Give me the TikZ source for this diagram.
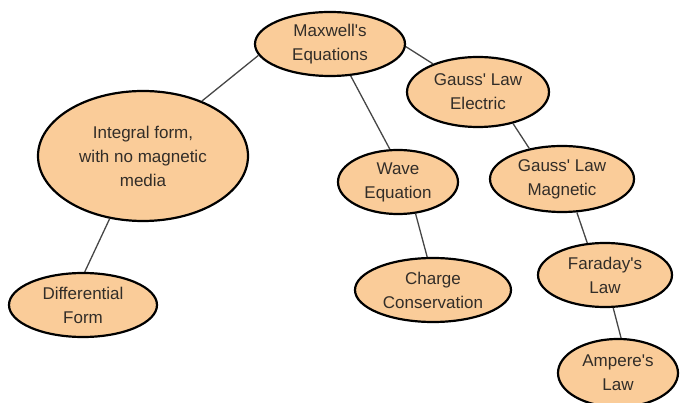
\documentclass[tikz,border=0pt]{standalone}
\usepackage{fontspec}
\setmainfont{Liberation Sans}[Ligatures=TeXOff]
\usetikzlibrary{shapes.geometric}
\definecolor{peach}{RGB}{250,204,153}
\definecolor{txt}{RGB}{50,45,40}
\definecolor{conn}{RGB}{70,70,70}
\begin{document}
\begin{tikzpicture}[x=1pt,y=-1pt,
  bub/.style={ellipse,draw=black,line width=2.2pt,fill=peach,inner sep=0pt,
    align=center,text=txt,font=\fontsize{17}{24}\selectfont},
  conn/.style={draw=conn,line width=1.3pt}]
\useasboundingbox (0,0) rectangle (680,403);
\node[bub,minimum width=150pt,minimum height=64pt] (max) at (330,44) {Maxwell's\\Equations};
\node[bub,minimum width=142pt,minimum height=70pt] (ge) at (478,92) {Gauss' Law\\Electric};
\node[bub,minimum width=210pt,minimum height=130pt] (int) at (143,156) {Integral form,\\with no magnetic\\media};
\node[bub,minimum width=148pt,minimum height=64pt] (dif) at (83,305) {Differential\\Form};
\node[bub,minimum width=120pt,minimum height=64pt] (wav) at (398,182) {Wave\\Equation};
\node[bub,minimum width=144pt,minimum height=66pt] (gm) at (562,179) {Gauss' Law\\Magnetic};
\node[bub,minimum width=156pt,minimum height=64pt] (chg) at (433,290) {Charge\\Conservation};
\node[bub,minimum width=134pt,minimum height=64pt] (far) at (605,275) {Faraday's\\Law};
\node[bub,minimum width=120pt,minimum height=68pt] (amp) at (618,373) {Ampere's\\Law};
\draw[conn] (max.189) -- (int.43);
\draw[conn] (max.303) -- (wav.104);
\draw[conn] (max.358) -- (ge.148);
\draw[conn] (ge.318) -- (gm.137);
\draw[conn] (int.242) -- (dif.87);
\draw[conn] (wav.299) -- (chg.100);
\draw[conn] (gm.294) -- (far.119);
\draw[conn] (far.284) -- (amp.85);
\end{tikzpicture}
\end{document}
